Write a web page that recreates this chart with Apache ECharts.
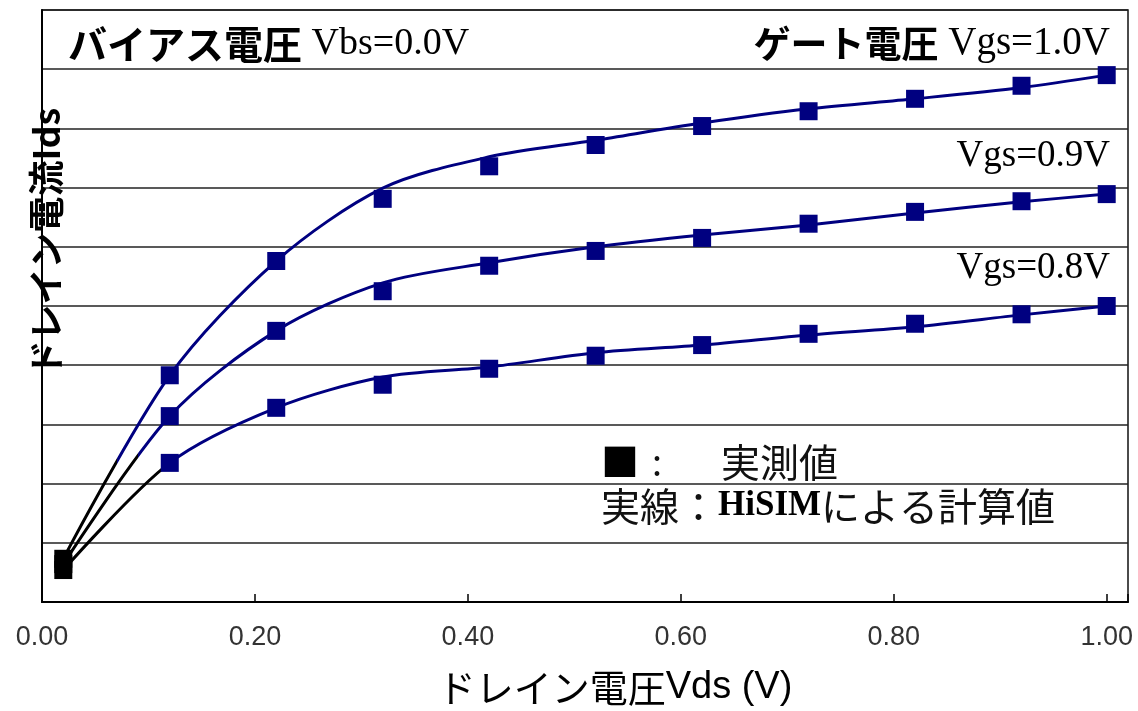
<!DOCTYPE html>
<html>
<head>
<meta charset="utf-8">
<script src="https://cdn.jsdelivr.net/npm/echarts@6/dist/echarts.min.js"></script>
<style>
  html, body { margin: 0; padding: 0; background: #fff; }
  #chart { width: 1138px; height: 711px; }
</style>
</head>
<body>
<div id="chart"></div>
<script>
// Drain voltage Vds (V) at which the drain current was sampled
const vds = [0.02, 0.12, 0.22, 0.32, 0.42, 0.52, 0.62, 0.72, 0.82, 0.92, 1.00];

// Measured drain current (arbitrary units, one grid step = 1)
const meas10 = [0.73, 3.83, 5.76, 6.81, 7.36, 7.72, 8.04, 8.29, 8.50, 8.72, 8.90];
const meas09 = [0.64, 3.14, 4.58, 5.25, 5.68, 5.93, 6.15, 6.39, 6.59, 6.77, 6.89];
const meas08 = [0.54, 2.35, 3.28, 3.67, 3.94, 4.16, 4.34, 4.53, 4.70, 4.86, 5.00];

// HiSIM simulated drain current
const calc10 = [0.73, 3.83, 5.76, 6.99, 7.52, 7.80, 8.09, 8.33, 8.50, 8.69, 8.90];
const calc09 = [0.64, 3.14, 4.58, 5.39, 5.73, 6.00, 6.20, 6.37, 6.57, 6.76, 6.89];
const calc08 = [0.54, 2.35, 3.28, 3.80, 3.97, 4.21, 4.34, 4.51, 4.65, 4.85, 5.00];

// Vds below which each simulated curve is drawn in black
const blackUpTo = [0.07, 0.09, 0.12];

const xTicks = ['0.00', '0.20', '0.40', '0.60', '0.80', '1.00'];

const NAVY = '#000080';
const JP = '"Noto Sans CJK JP", sans-serif';
const SERIF = '"Liberation Serif", "DejaVu Serif", serif';
const SANS = '"Liberation Sans", Arial, sans-serif';

const pairs = (xs, ys) => xs.map((x, i) => [x, ys[i]]);

const calcSets = [calc10, calc09, calc08];
const measSets = [meas10, meas09, meas08];

const lineSeries = calcSets.map(ys => ({
  type: 'line',
  data: pairs(vds, ys),
  smooth: 0.3,
  showSymbol: false,
  lineStyle: { width: 3 },
  z: 2,
  silent: true
}));

const markSeries = measSets.map(ys => ({
  type: 'scatter',
  symbol: 'rect',
  symbolSize: 18,
  itemStyle: { color: NAVY, opacity: 1 },
  data: pairs(vds, ys).map((p, i) => i === 0
    ? { value: p, itemStyle: { color: '#000', opacity: 1 } }
    : { value: p }),
  z: 3,
  silent: true
}));

// Colour each simulated curve by Vds: black near the origin, navy beyond
const visualMaps = blackUpTo.map((cut, i) => ({
  type: 'piecewise',
  show: false,
  dimension: 0,
  seriesIndex: i,
  pieces: [
    { gte: -1, lte: cut, color: '#000' },
    { gt: cut, lte: 2, color: NAVY }
  ]
}));

const chart = echarts.init(document.getElementById('chart'));

chart.setOption({
  animation: false,
  backgroundColor: '#fff',
  grid: {
    left: 42, right: 10, top: 10, bottom: 109,
    show: true, borderColor: '#111', borderWidth: 1.5
  },
  xAxis: {
    type: 'value',
    min: 0, max: 1.02, interval: 0.2,
    axisLine: { lineStyle: { color: '#000', width: 2 } },
    axisTick: { inside: true, length: 8, lineStyle: { color: '#000', width: 1.5 } },
    axisLabel: {
      margin: 22,
      fontFamily: SANS, fontSize: 27, color: '#333',
      formatter: v => {
        const k = Math.round(v / 0.2);
        return Math.abs(v - k * 0.2) < 1e-6 ? xTicks[k] : '';
      }
    },
    splitLine: { show: false }
  },
  yAxis: {
    type: 'value',
    min: 0, max: 10, interval: 1,
    axisLine: { show: true, lineStyle: { color: '#000', width: 2 } },
    axisTick: { show: false },
    axisLabel: { show: false },
    splitLine: { lineStyle: { color: '#222', width: 1.5 } }
  },
  visualMap: visualMaps,
  series: [...lineSeries, ...markSeries],
  graphic: [
    {
      type: 'text', x: 68, y: 44, z: 10,
      style: {
        text: '{j|バイアス電圧}{l| Vbs=0.0V}',
        verticalAlign: 'middle', align: 'left',
        rich: {
          j: { fontFamily: JP, fontSize: 39, fontWeight: 'bold', fill: '#000' },
          l: { fontFamily: SERIF, fontSize: 38, fill: '#000' }
        }
      }
    },
    {
      type: 'text', x: 1110, y: 44, z: 10,
      style: {
        text: '{j|ゲート電圧}{l| Vgs=1.0V}',
        verticalAlign: 'middle', align: 'right',
        rich: {
          j: { fontFamily: JP, fontSize: 37, fontWeight: 'bold', fill: '#000' },
          l: { fontFamily: SERIF, fontSize: 39, fill: '#000' }
        }
      }
    },
    {
      type: 'text', x: 1110, y: 156, z: 10,
      style: {
        text: 'Vgs=0.9V', verticalAlign: 'middle', align: 'right',
        font: '37px ' + SERIF, fill: '#000'
      }
    },
    {
      type: 'text', x: 1110, y: 268, z: 10,
      style: {
        text: 'Vgs=0.8V', verticalAlign: 'middle', align: 'right',
        font: '37px ' + SERIF, fill: '#000'
      }
    },
    {
      type: 'text', x: 601, y: 462, z: 10,
      style: {
        text: '■', verticalAlign: 'middle', align: 'left',
        font: '38px ' + JP, fill: '#000'
      }
    },
    {
      type: 'text', x: 652, y: 462, z: 10,
      style: {
        text: ':', verticalAlign: 'middle', align: 'left',
        font: '36px ' + JP, fill: '#111'
      }
    },
    {
      type: 'text', x: 721, y: 462, z: 10,
      style: {
        text: '実測値', verticalAlign: 'middle', align: 'left',
        font: '39px ' + JP, fill: '#111'
      }
    },
    {
      type: 'text', x: 601, y: 506, z: 10,
      style: {
        text: '{j|実線：}{h|HiSIM}{j|による計算値}',
        verticalAlign: 'middle', align: 'left',
        rich: {
          j: { fontFamily: JP, fontSize: 39, fill: '#111' },
          h: { fontFamily: SERIF, fontSize: 35, fontWeight: 'bold', fill: '#000' }
        }
      }
    },
    {
      type: 'text', x: 615, y: 688, z: 10,
      style: {
        text: '{j|ドレイン電圧}{l|Vds (V)}',
        verticalAlign: 'middle', align: 'center',
        rich: {
          j: { fontFamily: JP, fontSize: 38, fill: '#000' },
          l: { fontFamily: SANS, fontSize: 38, fill: '#000' }
        }
      }
    },
    {
      type: 'text', x: 46, y: 242, z: 10, rotation: Math.PI / 2,
      style: {
        text: 'ドレイン電流Ids', verticalAlign: 'middle', align: 'center',
        font: 'bold 36px ' + JP, fill: '#000'
      }
    }
  ]
});
</script>
</body>
</html>
